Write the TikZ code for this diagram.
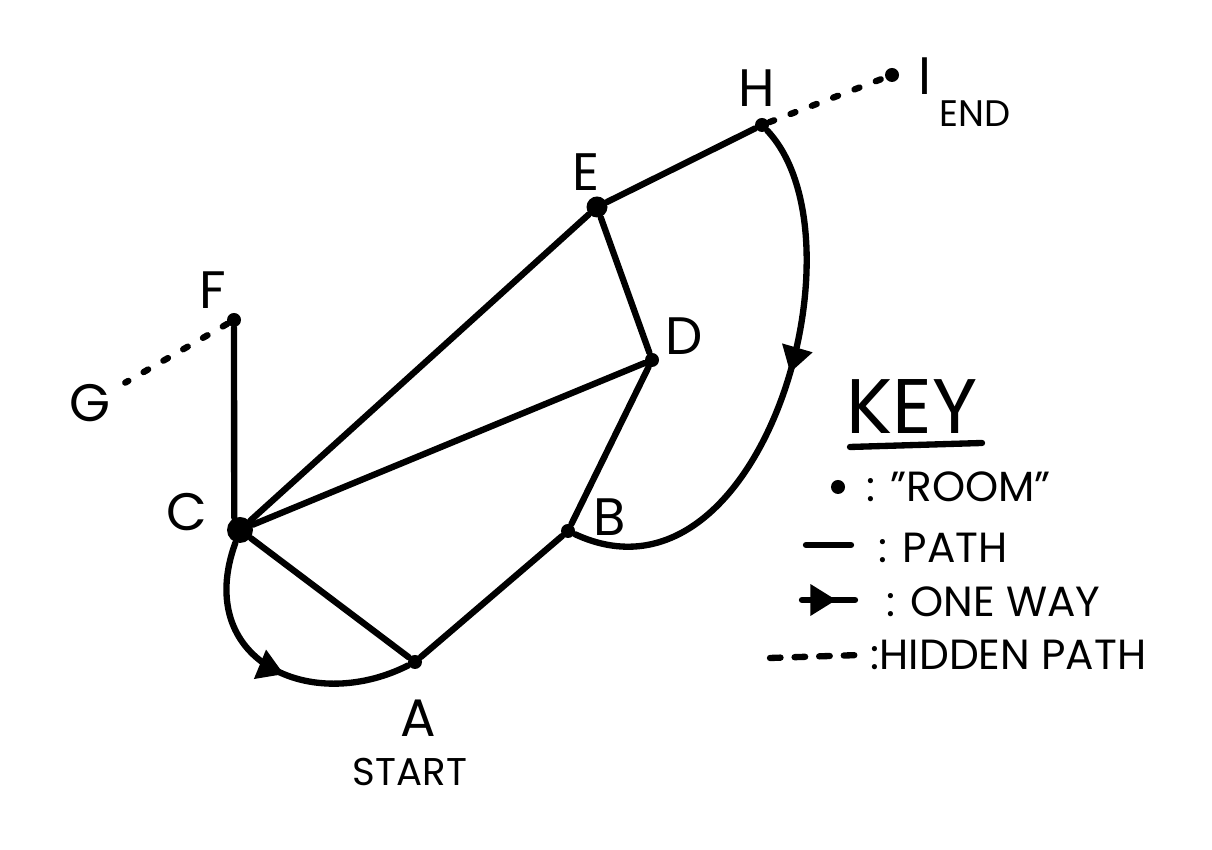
\documentclass[tikz,border=0pt]{standalone}
\usepackage{fontspec}
\setmainfont{Poppins}
\usetikzlibrary{arrows.meta,positioning,decorations.markings}
\tikzset{
  room/.style={circle,fill=black,inner sep=0pt,minimum size=1.4mm},
  bigroom/.style={circle,fill=black,inner sep=0pt,minimum size=2.6mm},
  pth/.style={line width=1.8pt, line cap=round},
  hid/.style={line width=1.8pt, line cap=round, dash pattern=on 1.5pt off 5pt},
  oneway/.style={pth, decoration={markings,
      mark=at position #1 with {\arrow{Triangle[length=2.6mm,width=3mm]}}},
      postaction={decorate}},
  lbl/.style={font=\fontsize{15}{18}\selectfont},
  keytxt/.style={font=\fontsize{12}{14}\selectfont, anchor=west, inner sep=0pt}
}

\begin{document}
\begin{tikzpicture}
    \useasboundingbox (0,0) rectangle (12.12,-8.5);

    % Rooms
    \node[room] (A) at (4.15,-6.62) {};
    \node[room] (B) at (5.68,-5.31) {};
    \node[bigroom] (C) at (2.40,-5.30) {};
    \node[room] (D) at (6.52,-3.60) {};
    \node[room, minimum size=2.1mm] (E) at (5.97,-2.07) {};
    \node[room] (F) at (2.34,-3.20) {};
    \node[room] (H) at (7.62,-1.25) {};
    \node[room] (I) at (8.92,-0.75) {};

    % Labels
    \node[lbl] (la) at (4.18,-7.18) {A};
    \node[font=\fontsize{11}{13}\selectfont] (start) at (4.10,-7.72) {START};
    \node[lbl] (lb) at (6.10,-5.17) {B};
    \node[lbl] (lc) at (1.87,-5.12) {C};
    \node[lbl] (ld) at (6.84,-3.36) {D};
    \node[lbl] (le) at (5.86,-1.72) {E};
    \node[lbl] (lf) at (2.13,-2.90) {F};
    \node[lbl, inner sep=4pt] (G) at (0.90,-4.03) {G};
    \node[lbl] (lh) at (7.57,-0.88) {H};
    \node[lbl] (li) at (9.25,-0.76) {I};
    \node[font=\fontsize{10.5}{12}\selectfont] (end) at (9.75,-1.14) {END};

    % Paths
    \draw[pth] (C.115) -- (F);
    \draw[pth] (C) -- (E);
    \draw[pth] (C) -- (D);
    \draw[pth] (C) -- (A);
    \draw[pth] (A) -- (B);
    \draw[pth] (B) -- (D);
    \draw[pth] (D) -- (E);
    \draw[pth] (E) -- (H);

    % Hidden paths
    \draw[hid] (H) -- (I);
    \draw[hid] (F) -- (G);

    % One way paths
    \draw[oneway=0.55] (C) .. controls +(-0.47,-1.30) and +(-1.05,-0.53) .. (A);
    \draw[oneway=0.45] (H) .. controls +(1.08,-1.15) and +(1.92,-0.89) .. (B);

    % Key
    \node[font=\fontsize{22}{26}\selectfont] (key) at (9.12,-4.07) {KEY};
    \coordinate (u1) at (8.50,-4.47);
    \coordinate (u2) at (9.82,-4.43);
    \draw[pth] (u1) -- (u2);
    \node[room] (kdot) at (8.38,-4.87) {};
    \node[keytxt] (kroom) at (8.66,-4.87) {: "ROOM"};
    \coordinate (k1a) at (8.06,-5.45);
    \coordinate (k1b) at (8.51,-5.45);
    \draw[pth] (k1a) -- (k1b);
    \node[keytxt] (kpath) at (8.78,-5.48) {: PATH};
    \coordinate (k2a) at (8.02,-6.00);
    \coordinate (k2b) at (8.55,-6.00);
    \draw[oneway=0.65] (k2a) -- (k2b);
    \node[keytxt] (kway) at (8.86,-6.02) {: ONE WAY};
    \coordinate (k3a) at (7.70,-6.58);
    \coordinate (k3b) at (8.60,-6.55);
    \draw[hid, dash pattern=on 3pt off 4pt] (k3a) -- (k3b);
    \node[keytxt] (khid) at (8.70,-6.55) {:HIDDEN PATH};

\end{tikzpicture}
\end{document}
